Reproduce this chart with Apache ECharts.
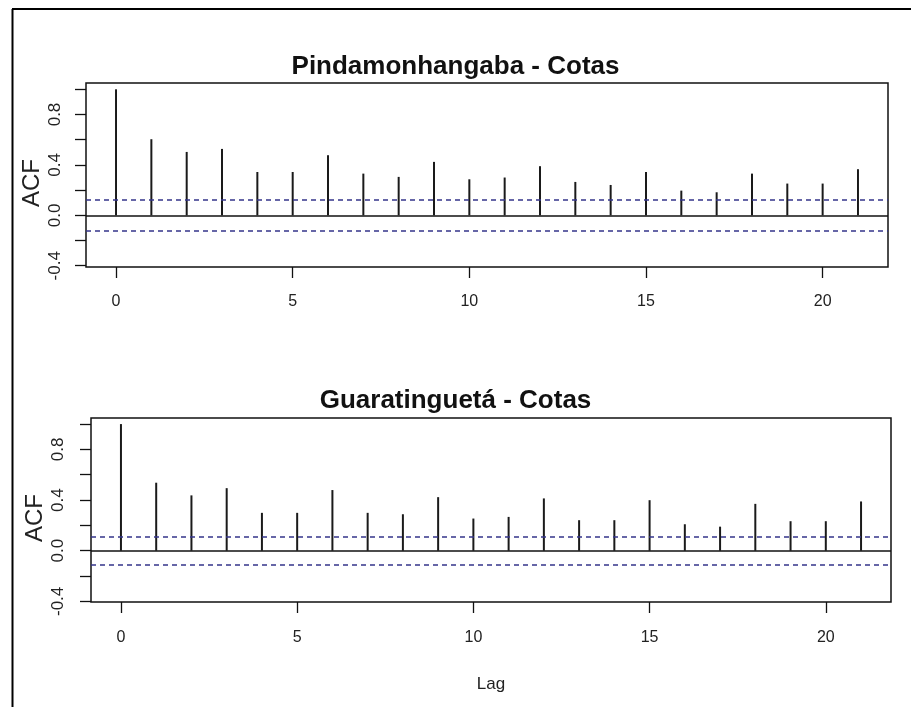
<!DOCTYPE html>
<html>
<head>
<meta charset="utf-8">
<script src="https://cdn.jsdelivr.net/npm/echarts@6/dist/echarts.min.js"></script>
<style>
html,body{margin:0;padding:0;background:#fff;}
#chart{width:911px;height:707px;}
</style>
</head>
<body>
<div id="chart"></div>
<script>
const lags = [0,1,2,3,4,5,6,7,8,9,10,11,12,13,14,15,16,17,18,19,20,21];
const acfPinda = [1.0,0.604,0.503,0.527,0.344,0.344,0.477,0.331,0.305,0.424,0.286,0.30,0.39,0.265,0.241,0.344,0.196,0.183,0.331,0.252,0.252,0.366];
const acfGuara = [1.0,0.537,0.437,0.494,0.299,0.299,0.479,0.299,0.288,0.423,0.254,0.267,0.413,0.241,0.241,0.399,0.209,0.19,0.37,0.233,0.233,0.389];
const climPinda = 0.122;
const climGuara = 0.112;
const titles = ['Pindamonhangaba - Cotas', 'Guaratinguetá - Cotas'];
const xTicks = [0,5,10,15,20];
const yTicks = [-0.4,-0.2,0,0.2,0.4,0.6,0.8,1.0];
const yLabels = [-0.4,0,0.4,0.8];

const FONT = '"Liberation Sans", Arial, sans-serif';
const chart = echarts.init(document.getElementById('chart'), null, {renderer:'canvas'});

function xAxis(gi, withName, margin){
  return {
    type:'value', gridIndex:gi, min:-0.85, max:21.85,
    axisLine:{show:false, onZero:false},
    splitLine:{show:false},
    axisTick:{show:true, length:11, customValues:xTicks, lineStyle:{color:'#111', width:1.3}},
    axisLabel:{show:true, customValues:xTicks, margin:margin, fontFamily:FONT, fontSize:16, color:'#222'},
    name: withName ? 'Lag' : '',
    nameLocation:'middle', nameGap:74,
    nameTextStyle:{fontFamily:FONT, fontSize:17, color:'#222'}
  };
}
function yAxis(gi, min, max, margin, gap){
  return {
    type:'value', gridIndex:gi, min:min, max:max,
    axisLine:{show:false, onZero:false},
    splitLine:{show:false},
    axisTick:{show:true, length:11, customValues:yTicks, lineStyle:{color:'#111', width:1.3}},
    axisLabel:{show:true, customValues:yLabels, rotate:90, margin:margin, fontFamily:FONT, fontSize:17, color:'#222',
      formatter:v => (Math.abs(v) < 1e-9 ? 0 : v).toFixed(1)},
    name:'ACF', nameLocation:'middle', nameRotate:90, nameGap:gap, nameMoveOverlap:false,
    nameTextStyle:{fontFamily:FONT, fontSize:24, color:'#222', padding:[0,16,0,0]}
  };
}
function series(gi, acf, clim){
  return {
    type:'bar', xAxisIndex:gi, yAxisIndex:gi,
    data: lags.map((l,i)=>[l, acf[i]]),
    barWidth:2,
    itemStyle:{color:'#1a1a1a'},
    silent:true,
    markLine:{
      silent:true, symbol:['none','none'], label:{show:false},
      data:[
        {yAxis:0, lineStyle:{color:'#111', width:1.5, type:'solid'}},
        {yAxis:clim, lineStyle:{color:'#34348a', width:1.5, type:[5,4]}},
        {yAxis:-clim, lineStyle:{color:'#34348a', width:1.5, type:[5,4]}}
      ]
    }
  };
}

chart.setOption({
  animation:false,
  backgroundColor:'#fff',
  title:[
    {text:titles[0], left:'center', top:49, textStyle:{fontFamily:FONT, fontWeight:'bold', fontSize:26, color:'#111'}},
    {text:titles[1], left:'center', top:383, textStyle:{fontFamily:FONT, fontWeight:'bold', fontSize:26, color:'#111'}}
  ],
  grid:[
    {left:86, top:83, width:802, height:184, show:true, borderColor:'#111', borderWidth:1.5, backgroundColor:'transparent'},
    {left:91, top:418, width:800, height:184, show:true, borderColor:'#111', borderWidth:1.5, backgroundColor:'transparent'}
  ],
  xAxis:[xAxis(0,false,27), xAxis(1,true,28)],
  yAxis:[yAxis(0,-0.41,1.05,22,42), yAxis(1,-0.405,1.048,24,44)],
  series:[series(0,acfPinda,climPinda), series(1,acfGuara,climGuara)],
  graphic:[
    {type:'line', shape:{x1:12.5, y1:9, x2:12.5, y2:707}, style:{stroke:'#000', lineWidth:2}},
    {type:'line', shape:{x1:12, y1:9, x2:911, y2:9}, style:{stroke:'#000', lineWidth:2}}
  ]
});
</script>
</body>
</html>
